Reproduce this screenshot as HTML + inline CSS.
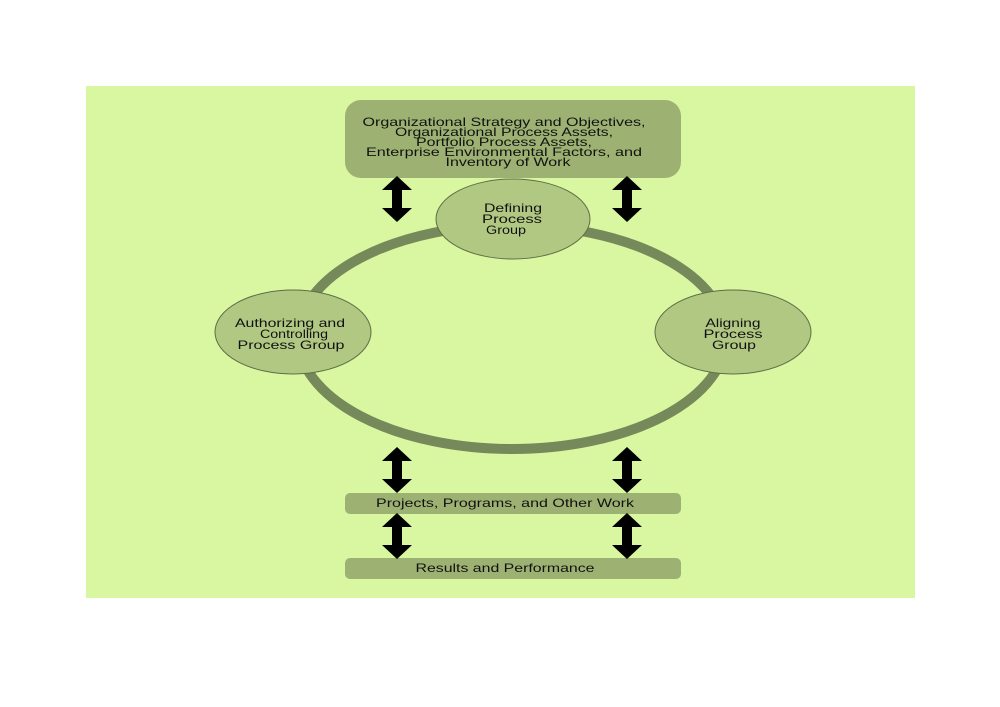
<!DOCTYPE html>
<html><head><style>
body{margin:0;background:#fff;}
svg{display:block;}
text{font-family:"Liberation Sans",sans-serif;font-size:12px;fill:#111;}
</style></head><body>
<svg width="1000" height="707" viewBox="0 0 1000 707">
<rect x="86" y="86" width="829" height="512" fill="#d9f6a0"/>
<rect x="345" y="100" width="336" height="78" rx="16" fill="#9db272"/>
<g text-anchor="middle" lengthAdjust="spacingAndGlyphs">
<text x="504" y="126" textLength="283" lengthAdjust="spacingAndGlyphs">Organizational Strategy and Objectives,</text>
<text x="504" y="136" textLength="218" lengthAdjust="spacingAndGlyphs">Organizational Process Assets,</text>
<text x="504" y="146" textLength="176" lengthAdjust="spacingAndGlyphs">Portfolio Process Assets,</text>
<text x="504" y="156" textLength="276" lengthAdjust="spacingAndGlyphs">Enterprise Environmental Factors, and</text>
<text x="508" y="166" textLength="125" lengthAdjust="spacingAndGlyphs">Inventory of Work</text>
</g>
<ellipse cx="512" cy="337" rx="214" ry="112" fill="none" stroke="#76895a" stroke-width="10"/>
<g fill="#b1c883" stroke="#5e6e46" stroke-width="1">
<ellipse cx="513" cy="219" rx="77" ry="40"/>
<ellipse cx="293" cy="332" rx="78" ry="42"/>
<ellipse cx="733" cy="332" rx="78" ry="42"/>
</g>
<g text-anchor="middle">
<text x="513" y="212" textLength="58" lengthAdjust="spacingAndGlyphs">Defining</text>
<text x="512" y="223" textLength="60" lengthAdjust="spacingAndGlyphs">Process</text>
<text x="506" y="234" textLength="40" lengthAdjust="spacingAndGlyphs">Group</text>
<text x="290" y="327" textLength="110" lengthAdjust="spacingAndGlyphs">Authorizing and</text>
<text x="294" y="338" textLength="68" lengthAdjust="spacingAndGlyphs">Controlling</text>
<text x="291" y="349" textLength="107" lengthAdjust="spacingAndGlyphs">Process Group</text>
<text x="733" y="327" textLength="55" lengthAdjust="spacingAndGlyphs">Aligning</text>
<text x="733" y="338" textLength="59" lengthAdjust="spacingAndGlyphs">Process</text>
<text x="734" y="349" textLength="44" lengthAdjust="spacingAndGlyphs">Group</text>
</g>
<rect x="345" y="493" width="336" height="21" rx="5" fill="#9db272"/>
<text x="505" y="507" text-anchor="middle" textLength="258" lengthAdjust="spacingAndGlyphs">Projects, Programs, and Other Work</text>
<rect x="345" y="558" width="336" height="21" rx="5" fill="#9db272"/>
<text x="505" y="572" text-anchor="middle" textLength="179" lengthAdjust="spacingAndGlyphs">Results and Performance</text>
<defs><path id="a" d="M0,-23 L15,-9 L5,-9 L5,9 L15,9 L0,23 L-15,9 L-5,9 L-5,-9 L-15,-9 Z" fill="#000"/></defs>
<use href="#a" x="397" y="199"/><use href="#a" x="627" y="199"/>
<use href="#a" x="397" y="470"/><use href="#a" x="627" y="470"/>
<use href="#a" x="397" y="536"/><use href="#a" x="627" y="536"/>
</svg>
</body></html>
